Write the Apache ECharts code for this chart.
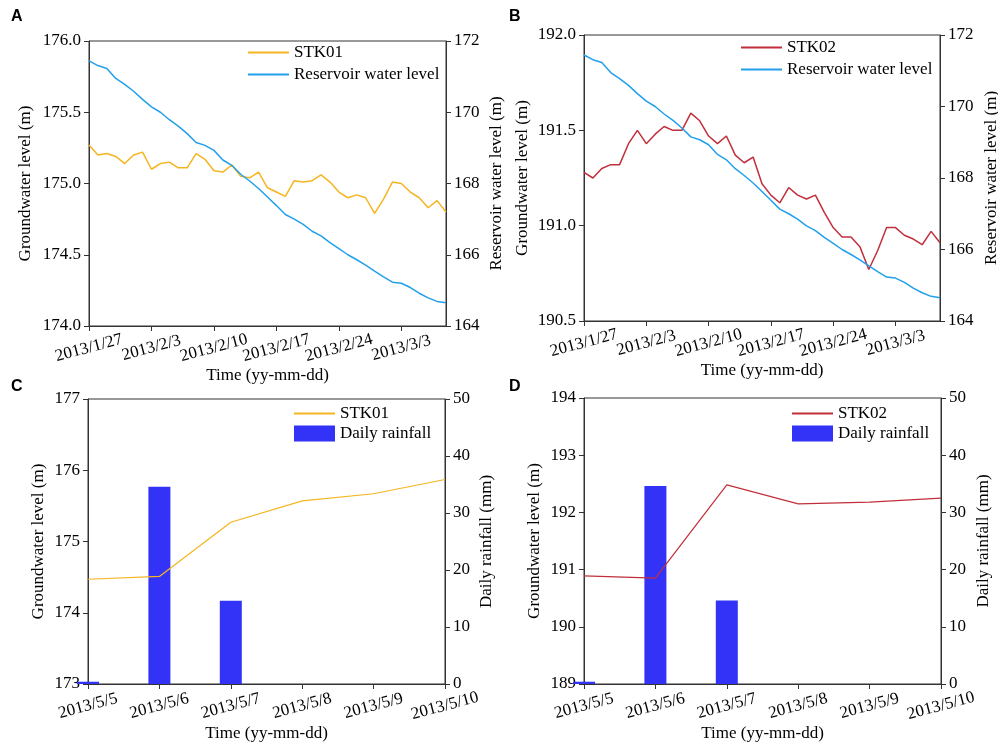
<!DOCTYPE html>
<html>
<head>
<meta charset="utf-8">
<script src="https://cdn.jsdelivr.net/npm/echarts@6/dist/echarts.min.js"></script>
<style>
  html, body { margin: 0; padding: 0; background: #fff; }
  #main { width: 998px; height: 744px; }
</style>
</head>
<body>
<div id="main"></div>
<script>
// daily dates, 2013/1/27 - 2013/3/8
var dates = [
  '2013/1/27','2013/1/28','2013/1/29','2013/1/30','2013/1/31',
  '2013/2/1','2013/2/2','2013/2/3','2013/2/4','2013/2/5','2013/2/6','2013/2/7',
  '2013/2/8','2013/2/9','2013/2/10','2013/2/11','2013/2/12','2013/2/13','2013/2/14',
  '2013/2/15','2013/2/16','2013/2/17','2013/2/18','2013/2/19','2013/2/20','2013/2/21',
  '2013/2/22','2013/2/23','2013/2/24','2013/2/25','2013/2/26','2013/2/27','2013/2/28',
  '2013/3/1','2013/3/2','2013/3/3','2013/3/4','2013/3/5','2013/3/6','2013/3/7','2013/3/8'
];
var stk01 = [175.27,175.20,175.21,175.19,175.14,175.20,175.22,175.10,175.14,175.15,
             175.11,175.11,175.21,175.17,175.09,175.08,175.13,175.05,175.04,175.08,
             174.97,174.94,174.91,175.02,175.01,175.02,175.06,175.01,174.94,174.90,
             174.92,174.90,174.79,174.89,175.01,175.00,174.94,174.90,174.83,174.88,174.80];
var stk02 = [191.28,191.25,191.30,191.32,191.32,191.43,191.50,191.43,191.48,191.52,
             191.50,191.50,191.59,191.55,191.47,191.43,191.47,191.37,191.33,191.36,
             191.22,191.16,191.12,191.20,191.16,191.14,191.16,191.07,190.99,190.94,
             190.94,190.89,190.77,190.87,190.99,190.99,190.95,190.93,190.90,190.97,190.91];
var reservoirLevel = [171.44,171.31,171.23,170.95,170.78,170.59,170.36,170.15,170.00,169.79,
             169.61,169.40,169.15,169.07,168.93,168.66,168.51,168.26,168.07,167.86,
             167.62,167.38,167.13,167.00,166.85,166.66,166.53,166.34,166.17,166.00,
             165.86,165.71,165.54,165.38,165.23,165.20,165.08,164.92,164.79,164.69,164.65];

// rainfall event, 2013/5/5 - 2013/5/10
var rainDays = ['2013/5/5','2013/5/6','2013/5/7','2013/5/8','2013/5/9','2013/5/10'];
var rainfall = [0.4, 34.6, 14.6, 0, 0, 0];
var stk01Rain = [174.47, 174.51, 175.27, 175.57, 175.67, 175.87];
var stk02Rain = [190.89, 190.85, 192.48, 192.15, 192.18, 192.25];

var font = 'Liberation Serif';
var axisColor = '#333';
var yellow = '#F5B520', blue = '#22A0EC', red = '#C12F3B', barBlue = '#3333F7';

var txt = { fontFamily: font, fontSize: 17, color: '#000' };

function xCat(grid, data, every) {
  var pick = function (i) { return i % every === 0; };
  return {
    type: 'category', gridIndex: grid, data: data, boundaryGap: false,
    name: 'Time (yy-mm-dd)', nameLocation: 'middle', nameGap: 41, nameMoveOverlap: false,
    nameTextStyle: txt,
    axisLine: { lineStyle: { color: axisColor } },
    axisTick: { interval: pick, length: 5, lineStyle: { color: axisColor } },
    // interval 0 keeps every label (no overlap pruning); blank the ones between weekly ticks
    axisLabel: { interval: 0, rotate: 15, align: 'center', verticalAlign: 'middle',
                 margin: 22, hideOverlap: false, fontFamily: font, fontSize: 17, color: '#000',
                 formatter: function (v, i) { return pick(i) ? v : ''; } },
    splitLine: { show: false }
  };
}

function yVal(grid, pos, min, max, step, dec, name, gap) {
  return {
    type: 'value', gridIndex: grid, position: pos, min: min, max: max, interval: step,
    name: name, nameLocation: 'middle', nameRotate: 90, nameGap: gap, nameMoveOverlap: false,
    nameTextStyle: txt,
    axisLine: { show: true, lineStyle: { color: axisColor } },
    axisTick: { show: true, length: 5, lineStyle: { color: axisColor } },
    axisLabel: { margin: 8, fontFamily: font, fontSize: 17, color: '#000',
                 formatter: function (v) { return v.toFixed(dec); } },
    splitLine: { show: false }
  };
}

// line items in the legend: hide the round marker, keep the stroke
function lineItem(n) {
  return { name: n, itemStyle: { opacity: 0 } };
}

function legend(left, top, gap, names) {
  return {
    orient: 'vertical', left: left, top: top, itemGap: gap, padding: 0,
    itemWidth: 41, itemHeight: 16, textStyle: txt, data: names
  };
}

function letter(t, left, top) {
  return { text: t, left: left, top: top, padding: 0,
           textStyle: { fontFamily: 'Liberation Sans', fontWeight: 'bold', fontSize: 16, color: '#000' } };
}

function grid(left, top, width, height) {
  return { left: left, top: top, width: width, height: height, show: true,
           borderColor: axisColor, borderWidth: 1, outerBoundsMode: 'none', containLabel: false };
}

var myChart = echarts.init(document.getElementById('main'));

var option = {
  animation: false,
  backgroundColor: '#fff',
  title: [ letter('A', 11, 9), letter('B', 509, 9), letter('C', 11, 379), letter('D', 509, 379) ],
  grid: [
    grid(89, 41, 357, 285),
    grid(584, 35, 356, 286),
    grid(88, 399, 357, 285),
    grid(584, 398, 357, 286)
  ],
  legend: [
    legend(247, 44, 5, [lineItem('STK01'), lineItem('Reservoir water level')]),
    legend(740, 39, 5, [lineItem('STK02'), lineItem('Reservoir water level')]),
    legend(293, 405, 3, [lineItem('STK01'), { name: 'Daily rainfall', icon: 'rect' }]),
    legend(791, 405, 3, [lineItem('STK02'), { name: 'Daily rainfall', icon: 'rect' }])
  ],
  xAxis: [
    xCat(0, dates, 7),
    xCat(1, dates, 7),
    xCat(2, rainDays, 1),
    xCat(3, rainDays, 1)
  ],
  yAxis: [
    yVal(0, 'left', 174, 176, 0.5, 1, 'Groundwater level (m)', 55),
    yVal(0, 'right', 164, 172, 2, 0, 'Reservoir water level (m)', 42),
    yVal(1, 'left', 190.5, 192, 0.5, 1, 'Groundwater level (m)', 53),
    yVal(1, 'right', 164, 172, 2, 0, 'Reservoir water level (m)', 43),
    yVal(2, 'left', 173, 177, 1, 0, 'Groundwater level (m)', 41),
    yVal(2, 'right', 0, 50, 10, 0, 'Daily rainfall (mm)', 33),
    yVal(3, 'left', 189, 194, 1, 0, 'Groundwater level (m)', 41),
    yVal(3, 'right', 0, 50, 10, 0, 'Daily rainfall (mm)', 34)
  ],
  series: [
    { name: 'STK01', type: 'line', xAxisIndex: 0, yAxisIndex: 0, data: stk01,
      symbol: 'none', color: yellow, lineStyle: { width: 1.5, color: yellow } },
    { name: 'Reservoir water level', type: 'line', xAxisIndex: 0, yAxisIndex: 1, data: reservoirLevel,
      symbol: 'none', color: blue, lineStyle: { width: 1.5, color: blue } },
    { name: 'STK02', type: 'line', xAxisIndex: 1, yAxisIndex: 2, data: stk02,
      symbol: 'none', color: red, lineStyle: { width: 1.5, color: red } },
    { name: 'Reservoir water level', type: 'line', xAxisIndex: 1, yAxisIndex: 3, data: reservoirLevel,
      symbol: 'none', color: blue, lineStyle: { width: 1.5, color: blue } },
    { name: 'Daily rainfall', type: 'bar', xAxisIndex: 2, yAxisIndex: 5, data: rainfall,
      barWidth: 22, clip: true, color: barBlue, itemStyle: { color: barBlue } },
    { name: 'STK01', type: 'line', xAxisIndex: 2, yAxisIndex: 4, data: stk01Rain,
      symbol: 'none', color: yellow, lineStyle: { width: 1.2, color: yellow } },
    { name: 'Daily rainfall', type: 'bar', xAxisIndex: 3, yAxisIndex: 7, data: rainfall,
      barWidth: 22, clip: true, color: barBlue, itemStyle: { color: barBlue } },
    { name: 'STK02', type: 'line', xAxisIndex: 3, yAxisIndex: 6, data: stk02Rain,
      symbol: 'none', color: red, lineStyle: { width: 1.2, color: red } }
  ]
};

myChart.setOption(option);
</script>
</body>
</html>
